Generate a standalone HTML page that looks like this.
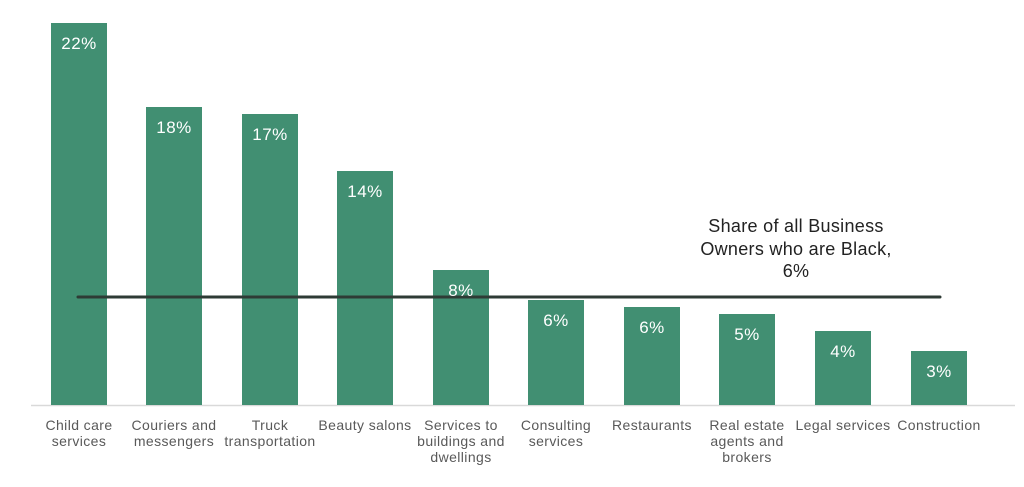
<!DOCTYPE html>
<html><head><style>
body{margin:0;background:#fff;}
svg text{font-family:"Liberation Sans",sans-serif;}
</style></head><body>
<svg width="1024" height="482" viewBox="0 0 1024 482" xmlns="http://www.w3.org/2000/svg">
<line x1="31" y1="405.5" x2="1015" y2="405.5" stroke="#d9d9d9" stroke-width="1.5"/>
<g fill="#418f72">
<rect x="51" y="23" width="56" height="382"/>
<rect x="146" y="107" width="56" height="298"/>
<rect x="242" y="114" width="56" height="291"/>
<rect x="337" y="171" width="56" height="234"/>
<rect x="433" y="270" width="56" height="135"/>
<rect x="528" y="300" width="56" height="105"/>
<rect x="624" y="307" width="56" height="98"/>
<rect x="719" y="314" width="56" height="91"/>
<rect x="815" y="331" width="56" height="74"/>
<rect x="911" y="351" width="56" height="54"/>
</g>
<line x1="78" y1="297" x2="940" y2="297" stroke="#2e3b35" stroke-width="3" stroke-linecap="round"/>
<g fill="#fff" font-size="17" text-anchor="middle" letter-spacing="0.5">
<text x="79" y="49">22%</text>
<text x="174" y="133">18%</text>
<text x="270" y="140">17%</text>
<text x="365" y="197">14%</text>
<text x="461" y="296">8%</text>
<text x="556" y="326">6%</text>
<text x="652" y="333">6%</text>
<text x="747" y="340">5%</text>
<text x="843" y="357">4%</text>
<text x="939" y="377">3%</text>
</g>
<g fill="#222" font-size="18" text-anchor="middle" letter-spacing="0.3">
<text x="796" y="232">Share of all Business</text>
<text x="796" y="255">Owners who are Black,</text>
<text x="796" y="277">6%</text>
</g>
<g fill="#595959" font-size="14" text-anchor="middle" letter-spacing="0.4">
<text x="79" y="430">Child care</text><text x="79" y="446">services</text>
<text x="174" y="430">Couriers and</text><text x="174" y="446">messengers</text>
<text x="270" y="430">Truck</text><text x="270" y="446">transportation</text>
<text x="365" y="430">Beauty salons</text>
<text x="461" y="430">Services to</text><text x="461" y="446">buildings and</text><text x="461" y="462">dwellings</text>
<text x="556" y="430">Consulting</text><text x="556" y="446">services</text>
<text x="652" y="430">Restaurants</text>
<text x="747" y="430">Real estate</text><text x="747" y="446">agents and</text><text x="747" y="462">brokers</text>
<text x="843" y="430">Legal services</text>
<text x="939" y="430">Construction</text>
</g>
</svg>
</body></html>
